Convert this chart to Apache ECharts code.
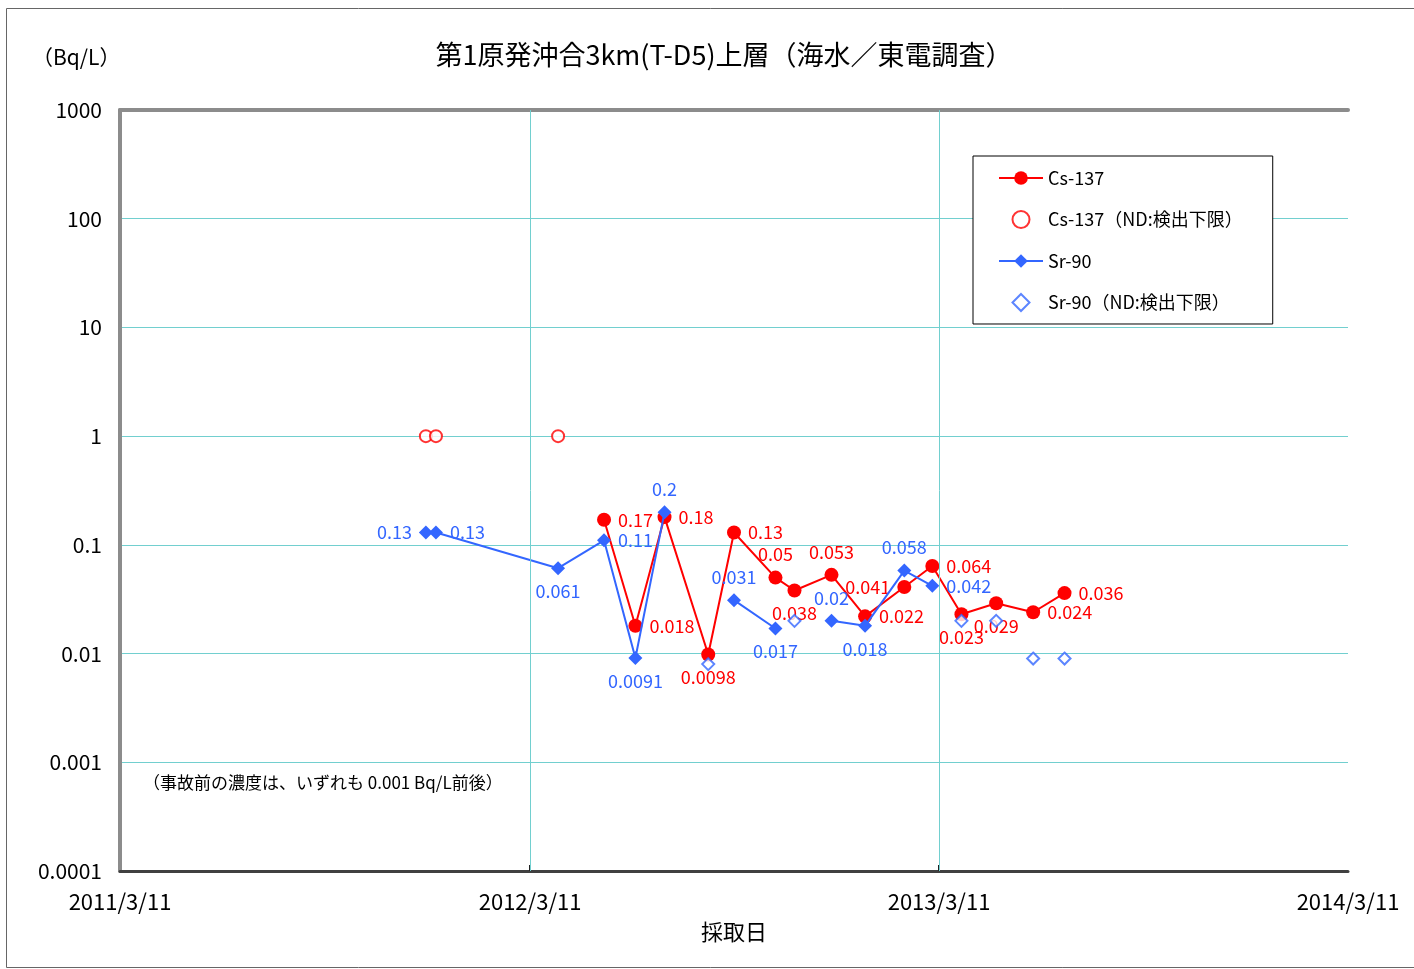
<!DOCTYPE html>
<html>
<head>
<meta charset="utf-8">
<script src="https://cdn.jsdelivr.net/npm/echarts@6/dist/echarts.min.js"></script>
<style>html,body{margin:0;padding:0;background:#fff;}#c{width:1414px;height:969px;}</style>
</head>
<body>
<div id="c"></div>
<script>
// ---- data ----
const xTickDates = ['2011/3/11', '2012/3/11', '2013/3/11', '2014/3/11'];
const yTickLabels = ['0.0001', '0.001', '0.01', '0.1', '1', '10', '100', '1000'];

const csDates = ['2012/5/16','2012/6/13','2012/7/9','2012/8/17','2012/9/9','2012/10/16','2012/11/2','2012/12/5','2013/1/4','2013/2/8','2013/3/5','2013/3/31','2013/5/1','2013/6/3','2013/7/1'];
const csValues = [0.17, 0.018, 0.18, 0.0098, 0.13, 0.05, 0.038, 0.053, 0.022, 0.041, 0.064, 0.023, 0.029, 0.024, 0.036];

const csNdDates = ['2011/12/9', '2011/12/18', '2012/4/5'];
const csNdValues = [1, 1, 1];

// null = not detected on that date (line broken there)
const srDates = ['2011/12/9','2011/12/18','2012/4/5','2012/5/16','2012/6/13','2012/7/9','2012/8/17','2012/9/9','2012/10/16','2012/11/2','2012/12/5','2013/1/4','2013/2/8','2013/3/5'];
const srValues = [0.13, 0.13, 0.061, 0.11, 0.0091, 0.2, null, 0.031, 0.017, null, 0.02, 0.018, 0.058, 0.042];

const srNdDates = ['2012/8/17', '2012/11/2', '2013/3/31', '2013/5/1', '2013/6/3', '2013/7/1'];
const srNdValues = [0.008, 0.02, 0.02, 0.02, 0.009, 0.009];

// ---- helpers ----
function dayOf(s) {
  const p = s.split('/').map(Number);
  return (Date.UTC(p[0], p[1] - 1, p[2]) - Date.UTC(2011, 2, 11)) / 86400000;
}
const xTicks = xTickDates.map(dayOf);

// label placement (layout, not data)
const csLabelPos = ['right','right','right','bottom','right','top','bottom','top','right','left','right','bottom','bottom','right','right'];
const srLabelPos = ['left','right','bottom','right','bottom','top',null,'top','bottom',null,'top','bottom','top','right'];

const RED = '#ff0000';
const BLUE = '#3366ff';
const GRID = '#72cfcf';
const FONT = '"Noto Sans CJK JP", "Noto Sans", sans-serif';
const DIAMOND = 'path://M0,-10L10,0L0,10L-10,0Z';

const csData = csDates.map((d, i) => ({
  value: [dayOf(d), csValues[i]],
  label: { position: csLabelPos[i] }
}));
const srData = srDates.map((d, i) => srValues[i] == null ? [dayOf(d), null] : ({
  value: [dayOf(d), srValues[i]],
  label: { position: srLabelPos[i] }
}));
const csNdData = csNdDates.map((d, i) => [dayOf(d), csNdValues[i]]);
const srNdData = srNdDates.map((d, i) => [dayOf(d), srNdValues[i]]);

const labelCommon = (color) => ({
  show: true,
  color: color,
  fontSize: 18,
  fontFamily: FONT,
  distance: 7,
  formatter: p => String(p.value[1])
});

const frameAxis = { show: true, lineStyle: { color: '#8c8c8c', width: 4 } };

const chart = echarts.init(document.getElementById('c'), null, { renderer: 'canvas' });
chart.setOption({
  backgroundColor: '#fff',
  animation: false,
  title: {
    text: '第1原発沖合3km(T-D5)上層（海水／東電調査）',
    left: 719,
    textAlign: 'center',
    top: 36,
    textStyle: { fontFamily: FONT, fontSize: 27, fontWeight: 'normal', color: '#000' }
  },
  graphic: [
    { type: 'rect', shape: { x: 6.5, y: 8.5, width: 1420, height: 959 }, style: { fill: 'none', stroke: '#666', lineWidth: 1 }, silent: true, z: -1 },
    { type: 'text', left: 32, top: 47, style: { text: '（Bq/L）', font: '21px ' + FONT, fill: '#000' } },
    { type: 'text', left: 143, top: 774, style: { text: '（事故前の濃度は、いずれも 0.001 Bq/L前後）', font: '17px ' + FONT, fill: '#000' } }
  ],
  legend: {
    orient: 'vertical',
    left: 973,
    top: 156,
    backgroundColor: '#fff',
    borderColor: '#000',
    borderWidth: 1,
    borderRadius: 0,
    padding: [13, 30, 12, 25],
    itemGap: 23,
    itemWidth: 44,
    itemHeight: 17,
    textStyle: { fontFamily: FONT, fontSize: 18, color: '#000' },
    data: [
      { name: 'Cs-137' },
      { name: 'Cs-137（ND:検出下限）' },
      { name: 'Sr-90' },
      { name: 'Sr-90（ND:検出下限）', icon: DIAMOND }
    ]
  },
  grid: {
    left: 120, top: 110, width: 1228, height: 761,
    show: false,
    containLabel: false
  },
  xAxis: [{
    type: 'value',
    min: xTicks[0], max: xTicks[xTicks.length - 1],
    name: '採取日',
    nameLocation: 'middle',
    nameGap: 50,
    nameTextStyle: { fontFamily: FONT, fontSize: 22, color: '#000' },
    axisLine: { show: true, lineStyle: { color: '#404040', width: 3 } },
    axisTick: { show: true, inside: true, length: 6, customValues: xTicks.slice(1, -1), lineStyle: { color: '#202020', width: 2 } },
    axisLabel: {
      customValues: xTicks,
      margin: 20,
      fontFamily: FONT, fontSize: 22, color: '#000',
      formatter: v => xTickDates[xTicks.indexOf(v)] || ''
    },
    splitLine: { show: false }
  }, {
    type: 'value', position: 'top',
    min: xTicks[0], max: xTicks[xTicks.length - 1],
    axisLine: frameAxis, axisTick: { show: false }, axisLabel: { show: false }, splitLine: { show: false }
  }],
  yAxis: [{
    type: 'log',
    logBase: 10,
    min: 0.0001, max: 1000,
    axisLine: { show: true, lineStyle: { color: '#404040', width: 3 } },
    axisTick: { show: false },
    axisLabel: {
      margin: 18,
      fontFamily: FONT, fontSize: 21, color: '#000',
      formatter: v => yTickLabels[Math.round(Math.log10(v)) + 4] || ''
    },
    splitLine: { show: true, lineStyle: { color: GRID, width: 1 } }
  }, {
    type: 'log', position: 'right', logBase: 10,
    min: 0.0001, max: 1000,
    axisLine: frameAxis, axisTick: { show: false }, axisLabel: { show: false }, splitLine: { show: false }
  }],
  series: [
    {
      name: 'Cs-137',
      type: 'line',
      data: csData,
      symbol: 'circle', symbolSize: 14,
      lineStyle: { color: RED, width: 2 },
      itemStyle: { color: RED },
      label: labelCommon(RED),
      z: 3,
      markLine: {
        silent: true, symbol: 'none', label: { show: false },
        lineStyle: { color: GRID, width: 1, type: 'solid' },
        data: xTicks.slice(1, -1).map(x => ({ xAxis: x }))
      }
    },
    {
      name: 'Cs-137（ND:検出下限）',
      type: 'scatter',
      data: csNdData,
      symbol: 'circle', symbolSize: 12,
      itemStyle: { color: '#fff', borderColor: RED, borderWidth: 2 },
      z: 3
    },
    {
      name: 'Sr-90',
      type: 'line',
      data: srData,
      connectNulls: false,
      symbol: 'diamond', symbolSize: 14,
      lineStyle: { color: BLUE, width: 2 },
      itemStyle: { color: BLUE },
      label: labelCommon(BLUE),
      z: 4
    },
    {
      name: 'Sr-90（ND:検出下限）',
      type: 'scatter',
      data: srNdData,
      symbol: 'diamond', symbolSize: 12,
      itemStyle: { color: '#fff', borderColor: BLUE, borderWidth: 2 },
      z: 4
    }
  ]
});
</script>
</body>
</html>
